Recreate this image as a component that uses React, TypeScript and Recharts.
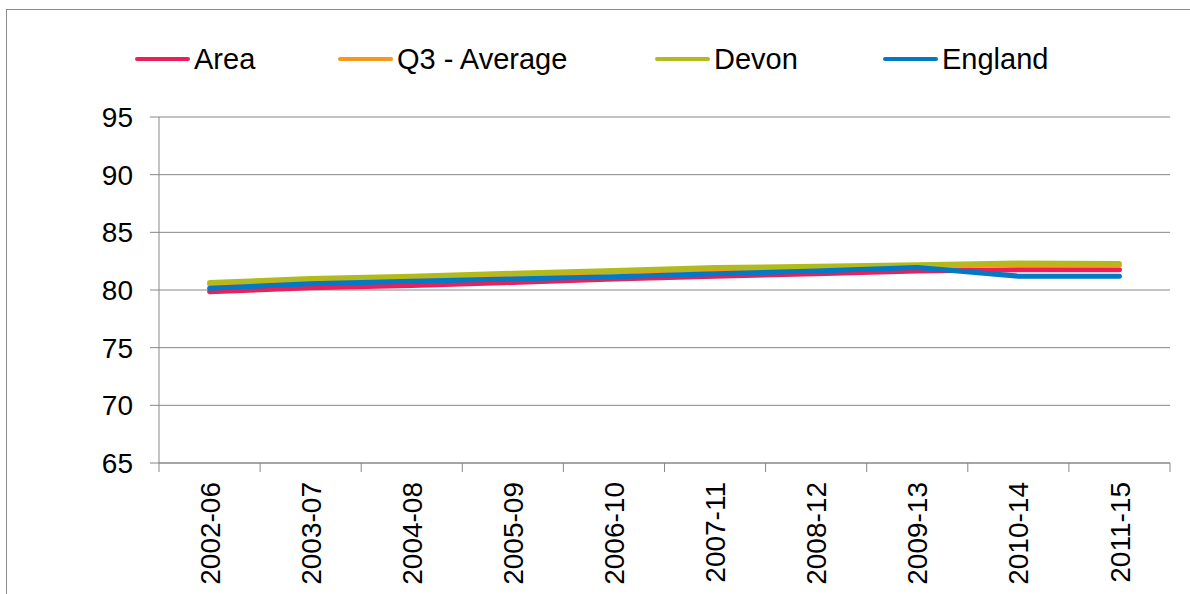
import { LineChart, Line, XAxis, YAxis, CartesianGrid } from 'recharts';

const periods = ['2002-06', '2003-07', '2004-08', '2005-09', '2006-10', '2007-11', '2008-12', '2009-13', '2010-14', '2011-15'];
const area = [79.85, 80.2, 80.4, 80.65, 80.95, 81.2, 81.4, 81.65, 81.75, 81.75];
const q3Average = [80.5, 80.85, 81.05, 81.3, 81.55, 81.8, 81.9, 82.05, 82.2, 82.15];
const devon = [80.65, 81.0, 81.2, 81.45, 81.7, 81.95, 82.05, 82.2, 82.35, 82.3];
const england = [80.15, 80.55, 80.75, 80.95, 81.15, 81.4, 81.65, 81.95, 81.2, 81.2];
const yTicks = [65, 70, 75, 80, 85, 90, 95];

const series = [
  { key: 'area', name: 'Area', color: '#ED1F5A', values: area, legendX: 135 },
  { key: 'q3', name: 'Q3 - Average', color: '#F7981D', values: q3Average, legendX: 338 },
  { key: 'devon', name: 'Devon', color: '#B2BB1E', values: devon, legendX: 655 },
  { key: 'england', name: 'England', color: '#0079C6', values: england, legendX: 883 },
];

const data = periods.map((p, i) => {
  const row: Record<string, any> = { period: p };
  series.forEach((s) => (row[s.key] = s.values[i]));
  return row;
});

const FONT = 'Liberation Sans, Arial, sans-serif';
const GRID = '#878787';
const BAND = (1170 - 159) / periods.length;

const XTick = (props: any) => {
  const { x, y, payload, index } = props;
  const ty = y + 11;
  return (
    <g>
      <line x1={x - BAND / 2} y1={y - 8} x2={x - BAND / 2} y2={y + 1} stroke={GRID} strokeWidth={1} />
      {index === periods.length - 1 && (
        <line x1={x + BAND / 2} y1={y - 8} x2={x + BAND / 2} y2={y + 1} stroke={GRID} strokeWidth={1} />
      )}
      <text
        x={x}
        y={ty}
        transform={`rotate(-90, ${x}, ${ty})`}
        textAnchor="end"
        dy="0.36em"
        fontSize={28}
        fontFamily={FONT}
        fill="#000"
      >
        {payload.value}
      </text>
    </g>
  );
};

export default function App() {
  return (
    <div style={{ position: 'fixed', left: 0, top: 0, width: 1190, height: 594, overflow: 'hidden', background: '#fff' }}>
      <div
        style={{
          position: 'absolute',
          left: 6,
          top: 9,
          width: 1200,
          height: 600,
          border: '1px solid #8c8c8c',
        }}
      />
      {series.map((s) => (
        <div
          key={s.key}
          style={{
            position: 'absolute',
            left: s.legendX,
            top: 41,
            height: 36,
            display: 'flex',
            alignItems: 'center',
            fontFamily: FONT,
            fontSize: 29,
            color: '#000',
            whiteSpace: 'nowrap',
          }}
        >
          <span style={{ display: 'inline-block', width: 55, height: 4, borderRadius: 2, background: s.color, marginRight: 4 }} />
          {s.name}
        </div>
      ))}
      <div style={{ position: 'absolute', left: 0, top: 0 }}>
        <LineChart width={1190} height={594} data={data} margin={{ top: 117, right: 20, bottom: 0, left: 0 }}>
          <CartesianGrid vertical={false} stroke={GRID} strokeWidth={1} />
          <XAxis
            dataKey="period"
            height={131}
            interval={0}
            padding={{ left: BAND / 2, right: BAND / 2 }}
            axisLine={{ stroke: GRID }}
            tickLine={false}
            tick={<XTick />}
          />
          <YAxis
            width={159}
            domain={[65, 95]}
            ticks={yTicks}
            interval={0}
            axisLine={{ stroke: GRID }}
            tickLine={{ stroke: GRID }}
            tickSize={9}
            tickMargin={17}
            tick={{ fontSize: 28, fontFamily: FONT, fill: '#000' }}
          />
          {series.map((s) => (
            <Line
              key={s.key}
              dataKey={s.key}
              name={s.name}
              stroke={s.color}
              strokeWidth={5}
              strokeLinecap="round"
              strokeLinejoin="round"
              dot={false}
              type="linear"
              isAnimationActive={false}
            />
          ))}
        </LineChart>
      </div>
    </div>
  );
}
